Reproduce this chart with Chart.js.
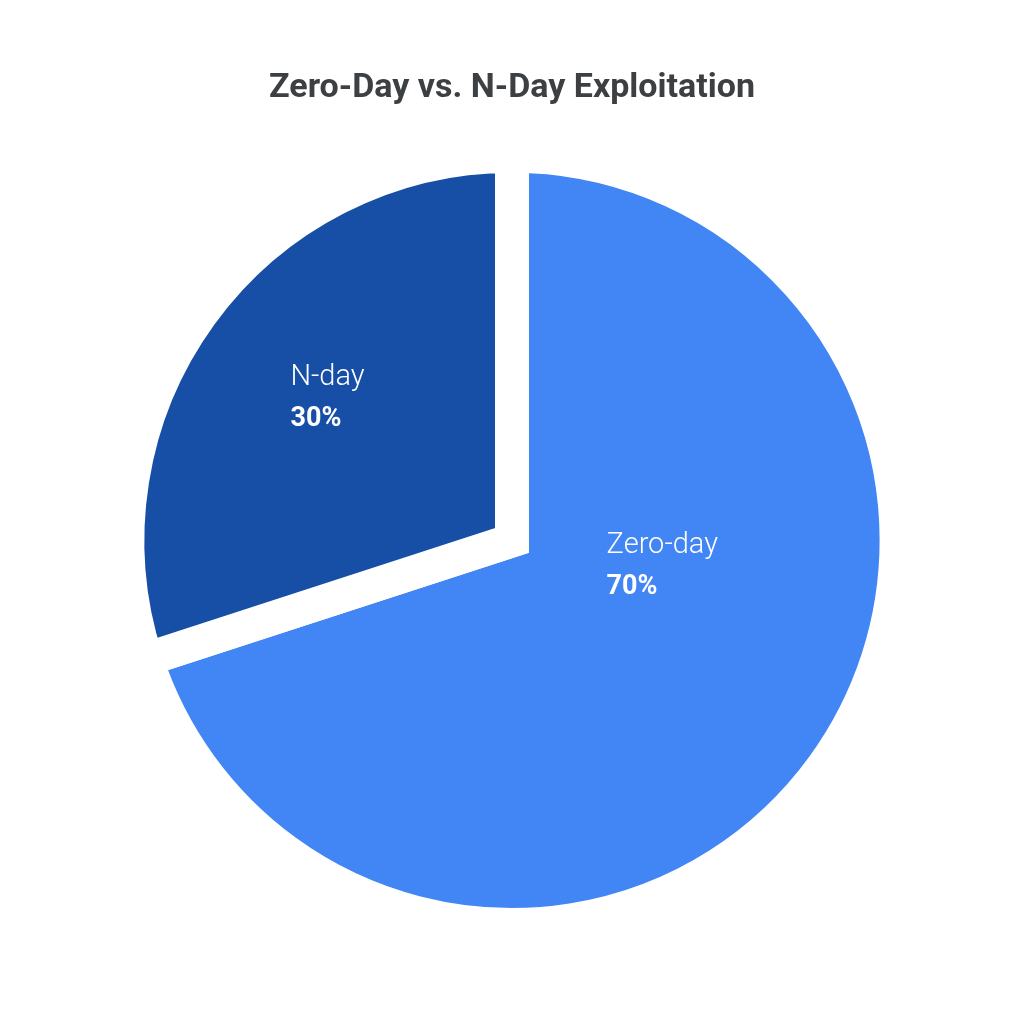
<!DOCTYPE html>
<html>
<head>
<meta charset="utf-8">
<script src="https://cdn.jsdelivr.net/npm/chart.js@4.4.1/dist/chart.umd.min.js"></script>
<style>
  html, body { margin: 0; padding: 0; background: #fff; }
  #wrap { width: 1024px; height: 1024px; }
</style>
</head>
<body>
<div id="wrap"><canvas id="pie"></canvas></div>
<script>
// data
const labels = ['Zero-day', 'N-day'];
const shares = [70, 30];
const colors = ['#4285f4', '#174ea6'];

// label offsets from each slice's centre point
const labelShift = [{ x: -61, y: -108 }, { x: -66, y: -50 }];

const sliceLabels = {
  id: 'sliceLabels',
  afterDatasetsDraw(chart) {
    const ctx = chart.ctx;
    const arcs = chart.getDatasetMeta(0).data;
    ctx.save();
    ctx.fillStyle = '#fff';
    ctx.textAlign = 'left';
    ctx.textBaseline = 'middle';
    arcs.forEach((arc, i) => {
      const p = arc.getCenterPoint();
      const x = p.x + labelShift[i].x;
      const y = p.y + labelShift[i].y;
      ctx.font = '300 29px Roboto';
      ctx.fillText(labels[i], x, y);
      ctx.font = 'bold 27px Roboto';
      ctx.fillText(shares[i] + '%', x, y + 42);
    });
    ctx.restore();
  }
};

new Chart(document.getElementById('pie'), {
  type: 'pie',
  data: {
    labels: labels,
    datasets: [{
      data: shares,
      backgroundColor: colors,
      borderColor: '#fff',
      borderWidth: 34,
      borderJoinStyle: 'miter'
    }]
  },
  options: {
    responsive: true,
    maintainAspectRatio: false,
    animation: false,
    layout: { padding: { bottom: 82 } },
    plugins: {
      legend: { display: false },
      tooltip: { enabled: false },
      title: {
        display: true,
        text: 'Zero-Day vs. N-Day Exploitation',
        color: '#3c4043',
        font: { family: 'Roboto', size: 34, weight: 'bold' },
        padding: { top: 68, bottom: 30 }
      }
    }
  },
  plugins: [sliceLabels]
});
</script>
</body>
</html>
